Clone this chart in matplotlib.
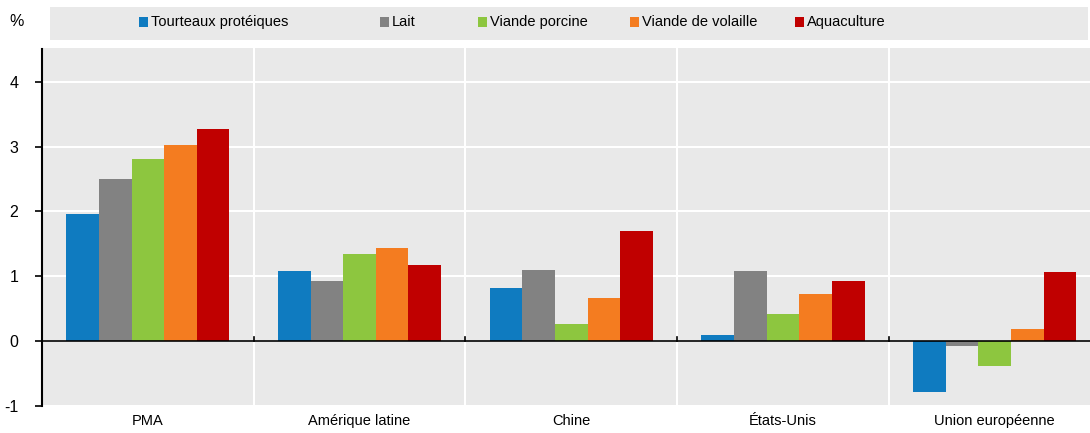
import matplotlib
matplotlib.use("Agg")
import matplotlib.pyplot as plt
from matplotlib.patches import Rectangle
import numpy as np

plt.rcParams['font.family'] = ['Liberation Sans', 'DejaVu Sans']

categories = ["PMA", "Amérique latine", "Chine", "États-Unis", "Union européenne"]
series_names = ["Tourteaux protéiques", "Lait", "Viande porcine", "Viande de volaille", "Aquaculture"]
tourteaux = [1.96, 1.08, 0.82, 0.10, -0.79]
lait = [2.50, 0.93, 1.10, 1.08, -0.07]
porcine = [2.81, 1.35, 0.27, 0.42, -0.39]
volaille = [3.02, 1.44, 0.67, 0.73, 0.19]
aquaculture = [3.27, 1.18, 1.70, 0.92, 1.07]
values = [tourteaux, lait, porcine, volaille, aquaculture]
colors = ["#0F7BC0", "#828282", "#8DC63F", "#F47C20", "#C00000"]
yticks = [-1, 0, 1, 2, 3, 4]

bg = "#E9E9E9"
fig = plt.figure(figsize=(10.9, 4.33), dpi=100)
ax = fig.add_axes([42/1090, 27/433, 1 - 42/1090, (406-48)/433])
ax.set_facecolor(bg)

n = len(categories)
x = np.arange(n)
bw = 0.154
for i, (vals, c) in enumerate(zip(values, colors)):
    ax.bar(x + (i - 2) * bw, vals, width=bw, color=c, edgecolor="none", zorder=3)

ax.set_xlim(-0.5, 4.45)
ax.set_ylim(-1, 4.52)
ax.set_yticks(yticks)
ax.set_yticklabels([str(t) for t in yticks], fontsize=11.5)
ax.yaxis.grid(True, color="white", linewidth=1.5, zorder=0)
for s in np.arange(0.5, n - 0.5, 1):
    ax.axvline(s, color="white", linewidth=1.5, zorder=1)
ax.axhline(0, color="black", linewidth=1.2, zorder=4)
for s in np.arange(0.5, n - 0.5, 1):
    ax.plot([s, s], [0, 0.07], color="black", linewidth=1.2, zorder=4)

ax.set_xticks(x)
ax.set_xticklabels(categories, fontsize=10.5)
ax.tick_params(axis="x", length=0, pad=6)
ax.tick_params(axis="y", length=5, width=1.2, direction="out", pad=12, colors="black")
for sp in ["top", "right", "bottom"]:
    ax.spines[sp].set_visible(False)
ax.spines["left"].set_linewidth(1.5)
ax.spines["left"].set_bounds(-1, 4.5)

fig.text(17/1090, 1 - 21/433, "%", fontsize=11.5, ha="center", va="center")

fig.patches.append(Rectangle((50/1090, 1 - 40/433), (1088-50)/1090, 33/433,
                             transform=fig.transFigure, facecolor=bg, edgecolor="none", zorder=0))
leg_x = [139, 380, 478, 630, 795]
yc = 1 - 22/433
for name, c, lx in zip(series_names, colors, leg_x):
    fig.patches.append(Rectangle((lx/1090, yc - 4.5/433), 9/1090, 9/433,
                                 transform=fig.transFigure, facecolor=c, edgecolor="none"))
    fig.text((lx + 12)/1090, yc, name, fontsize=10.5, ha="left", va="center")

fig.savefig("out.png", dpi=100, facecolor="white")
